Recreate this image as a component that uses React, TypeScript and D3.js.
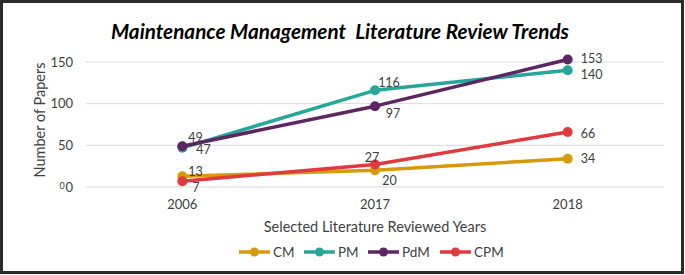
import React from "react";
import * as d3 from "d3";

const years = ["2006", "2017", "2018"];
const cm = [13, 20, 34];
const pm = [47, 116, 140];
const pdm = [49, 97, 153];
const cpm = [7, 27, 66];
const yTicks = [0, 50, 100, 150];
const seriesNames = ["CM", "PM", "PdM", "CPM"];
const seriesColors = ["#D69A0B", "#26A69A", "#5E2563", "#E0393E"];
// label placement per series per point: [dx, dy, anchor]
const labelPos: [number, number, string][][] = [
  [[6, -5, "start"], [14.5, 10, "middle"], [13, 0, "start"]],
  [[14, 2, "start"], [14, -8, "middle"], [13, 4, "start"]],
  [[6, -9, "start"], [18, 7, "middle"], [13, -1, "start"]],
  [[10, 6, "start"], [-3, -7.5, "middle"], [13, 1, "start"]],
];

const W = 685;
const H = 275;
const FONT = "Lato, 'Liberation Sans', sans-serif";

export default function App() {
  const x = d3.scaleBand<string>().domain(years).range([86, 664]);
  const y = d3.scaleLinear().domain([0, 150]).range([187, 62]);
  const cx = (d: string) => (x(d) as number) + x.bandwidth() / 2;
  const allSeries = [cm, pm, pdm, cpm];
  const line = d3
    .line<number>()
    .x((_, i) => cx(years[i]))
    .y((v) => y(v));

  const legendX = [239, 304, 368, 440];

  return (
    <svg
      width={W}
      height={H}
      style={{ position: "absolute", left: 0, top: 0, background: "#fff" }}
      fontFamily={FONT}
    >
      <rect x={0} y={0} width={W} height={H} fill="#fff" />
      <rect x={1.5} y={1.5} width={681} height={271} fill="none" stroke="#2b2b2b" strokeWidth={3} />
      <text
        x={340}
        y={39}
        textAnchor="middle"
        fontSize={20.7}
        fontWeight="bold"
        fontStyle="italic"
        fill="#000"
        style={{ whiteSpace: "pre" }}
      >
        {"Maintenance Management  Literature Review Trends"}
      </text>

      {yTicks.map((t) => (
        <g key={t}>
          <line x1={86} x2={664} y1={y(t)} y2={y(t)} stroke="#D9D9D9" strokeWidth={1} />
          <text x={73} y={y(t) + 4.5} textAnchor="end" fontSize={13} fill="#404040">
            {t}
          </text>
        </g>
      ))}
      <text x={62} y={189} textAnchor="middle" fontSize={9} fill="#404040">
        0
      </text>

      <text
        transform={`translate(45,120) rotate(-90)`}
        textAnchor="middle"
        fontSize={14.5}
        fill="#404040"
      >
        Number of Papers
      </text>

      {years.map((yr) => (
        <text key={yr} x={cx(yr)} y={209} textAnchor="middle" fontSize={13} fill="#404040">
          {yr}
        </text>
      ))}
      <text x={375} y={232} textAnchor="middle" fontSize={14.5} fill="#404040">
        Selected Literature Reviewed Years
      </text>

      {allSeries.map((s, si) => (
        <g key={si}>
          <path d={line(s) || ""} fill="none" stroke={seriesColors[si]} strokeWidth={3.5} strokeLinejoin="round" />
          {s.map((v, i) => (
            <circle key={i} cx={cx(years[i])} cy={y(v)} r={5} fill={seriesColors[si]} />
          ))}
        </g>
      ))}
      {allSeries.map((s, si) =>
        s.map((v, i) => {
          const [dx, dy, anchor] = labelPos[si][i];
          return (
            <text
              key={`${si}-${i}`}
              x={cx(years[i]) + dx}
              y={y(v) + dy + 4.5}
              textAnchor={anchor as any}
              fontSize={12.5}
              fill="#404040"
            >
              {v}
            </text>
          );
        })
      )}

      {seriesNames.map((n, i) => (
        <g key={n}>
          <line x1={legendX[i]} x2={legendX[i] + 31} y1={252} y2={252} stroke={seriesColors[i]} strokeWidth={3.5} />
          <circle cx={legendX[i] + 15.5} cy={252} r={4.5} fill={seriesColors[i]} />
          <text x={legendX[i] + 34} y={256.5} fontSize={13.5} fill="#404040">
            {n}
          </text>
        </g>
      ))}
    </svg>
  );
}
